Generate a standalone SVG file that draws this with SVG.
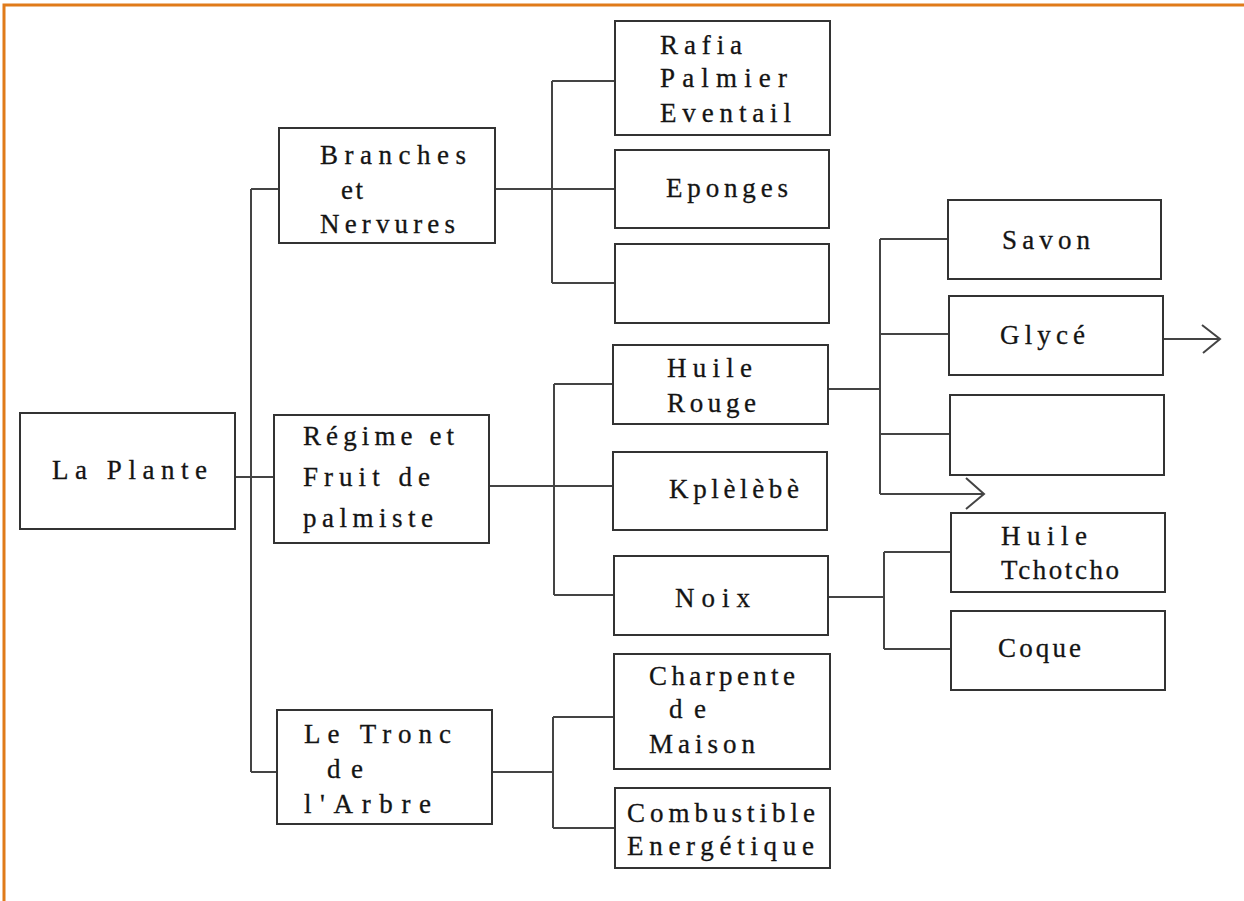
<svg xmlns="http://www.w3.org/2000/svg" width="1244" height="901" viewBox="0 0 1244 901">
<style>
.box{fill:#fff;stroke:#333;stroke-width:2}
.t{font-family:'Liberation Serif','DejaVu Serif','Times New Roman',serif;font-size:27px;fill:#141414;stroke:#141414;stroke-width:0.3}
.c{fill:none;stroke:#444;stroke-width:2}
.frame{fill:none;stroke:#e07b1a;stroke-width:3}
</style>
<rect width="1244" height="901" fill="#fff"/>
<path class="frame" d="M4,901 V5 H1244"/>
<g id="connectors">
<path class="c" d="M235,477 H274 M251,189 V772 M251,189 H279 M251,772 H277"/>
<path class="c" d="M495,189 H615 M552,81 V283 M552,81 H615 M552,283 H615"/>
<path class="c" d="M489,486 H613 M554,384 V595 M554,384 H613 M554,595 H614"/>
<path class="c" d="M828,389 H880 M880,239 V494 M880,239 H948 M880,334 H949 M880,434 H950 M880,494 H984"/>
<path class="c" d="M966,478 L984,494 L966,509"/>
<path class="c" d="M1163,339 H1220 M1202,325 L1220,339 L1203,353"/>
<path class="c" d="M828,597 H884 M884,552 V649 M884,552 H951 M884,649 H951"/>
<path class="c" d="M492,772 H553 M553,717 V828 M553,717 H614 M553,828 H615"/>
</g>
<g id="n-plante"><rect class="box" x="20" y="413" width="215" height="116"/>
<text class="t" x="52" y="479" textLength="155" lengthAdjust="spacing">La Plante</text></g>
<g id="n-branches"><rect class="box" x="279" y="128" width="216" height="115"/>
<text class="t" x="320" y="164" textLength="146" lengthAdjust="spacing">Branches</text>
<text class="t" x="341" y="199" textLength="22" lengthAdjust="spacing">et</text>
<text class="t" x="320" y="233" textLength="135" lengthAdjust="spacing">Nervures</text></g>
<g id="n-regime"><rect class="box" x="274" y="415" width="215" height="128"/>
<text class="t" x="303" y="445" textLength="151" lengthAdjust="spacing">Régime et</text>
<text class="t" x="303" y="486" textLength="127" lengthAdjust="spacing">Fruit de</text>
<text class="t" x="303" y="527" textLength="130" lengthAdjust="spacing">palmiste</text></g>
<g id="n-tronc"><rect class="box" x="277" y="710" width="215" height="114"/>
<text class="t" x="304" y="743" textLength="147" lengthAdjust="spacing">Le Tronc</text>
<text class="t" x="327" y="778" textLength="36" lengthAdjust="spacing">de</text>
<text class="t" x="304" y="813" textLength="127" lengthAdjust="spacing">l'Arbre</text></g>
<g id="n-rafia"><rect class="box" x="615" y="21" width="215" height="114"/>
<text class="t" x="660" y="54" textLength="82" lengthAdjust="spacing">Rafia</text>
<text class="t" x="660" y="87" textLength="127" lengthAdjust="spacing">Palmier</text>
<text class="t" x="660" y="122" textLength="131" lengthAdjust="spacing">Eventail</text></g>
<g id="n-eponges"><rect class="box" x="615" y="150" width="214" height="78"/>
<text class="t" x="666" y="197" textLength="122" lengthAdjust="spacing">Eponges</text></g>
<g id="n-empty1"><rect class="box" x="615" y="244" width="214" height="79"/></g>
<g id="n-huilerouge"><rect class="box" x="613" y="345" width="215" height="79"/>
<text class="t" x="667" y="377" textLength="85" lengthAdjust="spacing">Huile</text>
<text class="t" x="667" y="412" textLength="89" lengthAdjust="spacing">Rouge</text></g>
<g id="n-kplelebe"><rect class="box" x="613" y="452" width="214" height="78"/>
<text class="t" x="669" y="498" textLength="130" lengthAdjust="spacing">Kplèlèbè</text></g>
<g id="n-noix"><rect class="box" x="614" y="556" width="214" height="79"/>
<text class="t" x="675" y="607" textLength="75" lengthAdjust="spacing">Noix</text></g>
<g id="n-charpente"><rect class="box" x="614" y="654" width="216" height="115"/>
<text class="t" x="649" y="685" textLength="146" lengthAdjust="spacing">Charpente</text>
<text class="t" x="669" y="718" textLength="37" lengthAdjust="spacing">de</text>
<text class="t" x="649" y="753" textLength="106" lengthAdjust="spacing">Maison</text></g>
<g id="n-combustible"><rect class="box" x="615" y="788" width="215" height="80"/>
<text class="t" x="627" y="822" textLength="188" lengthAdjust="spacing">Combustible</text>
<text class="t" x="627" y="855" textLength="187" lengthAdjust="spacing">Energétique</text></g>
<g id="n-savon"><rect class="box" x="948" y="200" width="213" height="79"/>
<text class="t" x="1002" y="249" textLength="88" lengthAdjust="spacing">Savon</text></g>
<g id="n-glyce"><rect class="box" x="949" y="296" width="214" height="79"/>
<text class="t" x="1000" y="344" textLength="85" lengthAdjust="spacing">Glycé</text></g>
<g id="n-empty2"><rect class="box" x="950" y="395" width="214" height="80"/></g>
<g id="n-huiletchotcho"><rect class="box" x="951" y="513" width="214" height="79"/>
<text class="t" x="1001" y="545" textLength="86" lengthAdjust="spacing">Huile</text>
<text class="t" x="1001" y="579" textLength="118" lengthAdjust="spacing">Tchotcho</text></g>
<g id="n-coque"><rect class="box" x="951" y="611" width="214" height="79"/>
<text class="t" x="998" y="657" textLength="83" lengthAdjust="spacing">Coque</text></g>
</svg>
